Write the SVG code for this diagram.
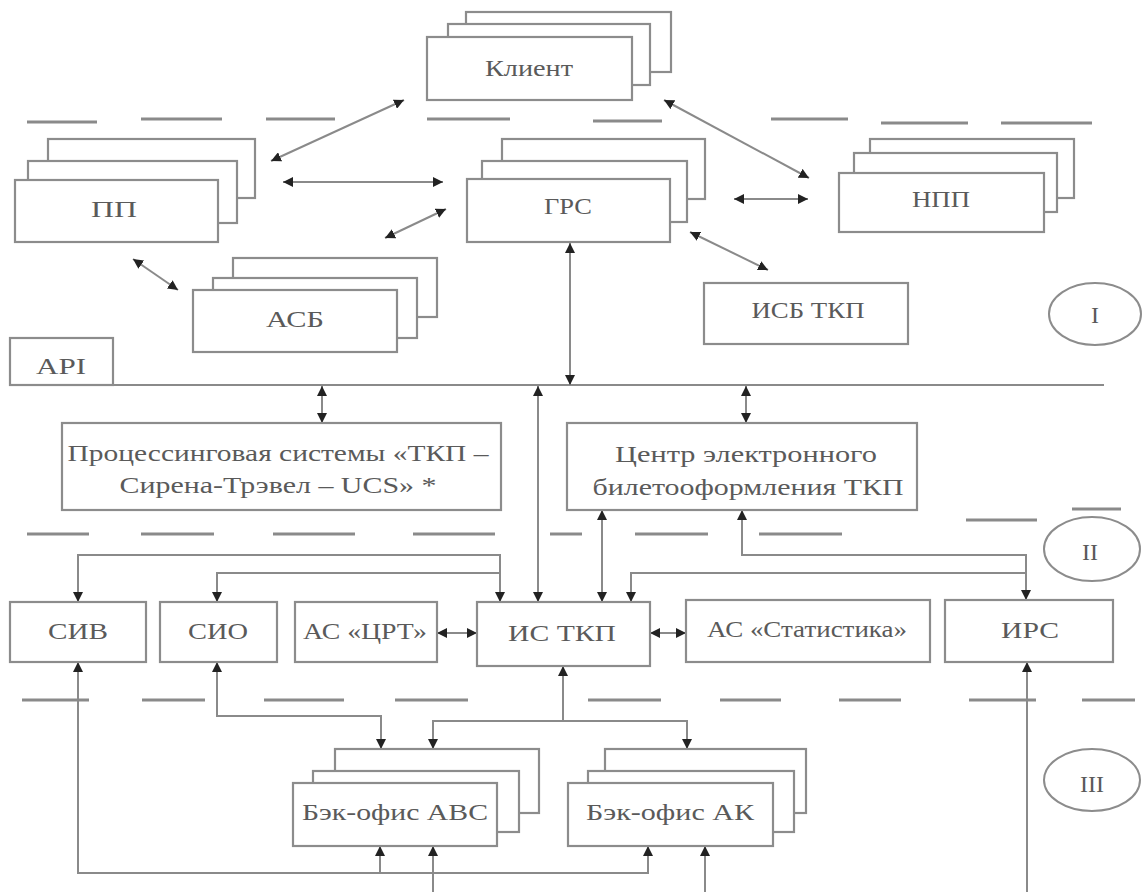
<svg xmlns="http://www.w3.org/2000/svg" width="1142" height="892" viewBox="0 0 1142 892">
<style>
.box{fill:#fff;stroke:#8c8c8c;stroke-width:2.2}
.ln{fill:none;stroke:#8a8a8a;stroke-width:2}
.dash{stroke:#8a8a8a;stroke-width:3}
.ell{fill:#fff;stroke:#8c8c8c;stroke-width:2}
.t{font-family:"Liberation Serif","Times New Roman",serif;font-size:24px;fill:#5a5a5a;text-anchor:middle}
</style>
<defs>
<marker id="ah" viewBox="0 0 10 10" refX="10" refY="5" markerWidth="10" markerHeight="10" markerUnits="userSpaceOnUse" orient="auto-start-reverse">
<path d="M0,0 L10,5 L0,10 z" fill="#222"/>
</marker>
</defs>
<rect width="1142" height="892" fill="#fff"/>

<g id="dashes">
<line class="dash" x1="27" y1="122" x2="97" y2="122"/>
<line class="dash" x1="141" y1="119" x2="222" y2="119"/>
<line class="dash" x1="266" y1="119" x2="335" y2="119"/>
<line class="dash" x1="427" y1="119" x2="510" y2="119"/>
<line class="dash" x1="593" y1="121" x2="662" y2="121"/>
<line class="dash" x1="771" y1="119" x2="848" y2="119"/>
<line class="dash" x1="881" y1="123" x2="968" y2="123"/>
<line class="dash" x1="1001" y1="123" x2="1092" y2="123"/>

<line class="dash" x1="27" y1="534" x2="89" y2="534"/>
<line class="dash" x1="141" y1="534" x2="214" y2="534"/>
<line class="dash" x1="273" y1="534" x2="355" y2="534"/>
<line class="dash" x1="413" y1="534" x2="495" y2="534"/>
<line class="dash" x1="550" y1="534" x2="582" y2="534"/>
<line class="dash" x1="635" y1="534" x2="708" y2="534"/>
<line class="dash" x1="759" y1="534" x2="842" y2="534"/>
<line class="dash" x1="966" y1="520" x2="1037" y2="520"/>
<line class="dash" x1="1072" y1="509" x2="1121" y2="509"/>

<line class="dash" x1="22" y1="700" x2="89" y2="700"/>
<line class="dash" x1="142" y1="700" x2="205" y2="700"/>
<line class="dash" x1="264" y1="700" x2="344" y2="700"/>
<line class="dash" x1="395" y1="700" x2="468" y2="700"/>
<line class="dash" x1="588" y1="700" x2="661" y2="700"/>
<line class="dash" x1="720" y1="700" x2="781" y2="700"/>
<line class="dash" x1="839" y1="700" x2="901" y2="700"/>
<line class="dash" x1="969" y1="700" x2="1036" y2="700"/>
<line class="dash" x1="1082" y1="700" x2="1135" y2="700"/>
</g>

<g id="api-bus">
<line class="ln" x1="10" y1="385" x2="1104" y2="385"/>
</g>

<g id="connectors">
<line class="ln" x1="404" y1="100" x2="271" y2="161" marker-start="url(#ah)" marker-end="url(#ah)"/>
<line class="ln" x1="283" y1="182" x2="443" y2="182" marker-start="url(#ah)" marker-end="url(#ah)"/>
<line class="ln" x1="664" y1="100" x2="809" y2="178" marker-start="url(#ah)" marker-end="url(#ah)"/>
<line class="ln" x1="734" y1="199" x2="808" y2="199" marker-start="url(#ah)" marker-end="url(#ah)"/>
<line class="ln" x1="133" y1="259" x2="178" y2="290" marker-start="url(#ah)" marker-end="url(#ah)"/>
<line class="ln" x1="385" y1="238" x2="446" y2="209" marker-start="url(#ah)" marker-end="url(#ah)"/>
<line class="ln" x1="570" y1="243" x2="570" y2="385" marker-start="url(#ah)" marker-end="url(#ah)"/>
<line class="ln" x1="690" y1="232" x2="768" y2="270" marker-start="url(#ah)" marker-end="url(#ah)"/>

<line class="ln" x1="322" y1="386" x2="322" y2="423" marker-start="url(#ah)" marker-end="url(#ah)"/>
<line class="ln" x1="746" y1="386" x2="746" y2="423" marker-start="url(#ah)" marker-end="url(#ah)"/>
<line class="ln" x1="538" y1="386" x2="538" y2="602" marker-start="url(#ah)" marker-end="url(#ah)"/>
<line class="ln" x1="602" y1="510" x2="602" y2="602" marker-start="url(#ah)" marker-end="url(#ah)"/>
<path class="ln" d="M742,510 V555 H1026 V600" marker-start="url(#ah)" marker-end="url(#ah)"/>
<path class="ln" d="M1026,573 H631 V602" marker-end="url(#ah)"/>
<path class="ln" d="M500,602 V555 H78 V602" marker-start="url(#ah)" marker-end="url(#ah)"/>
<path class="ln" d="M500,573 H217 V602" marker-end="url(#ah)"/>
<line class="ln" x1="437" y1="633" x2="477" y2="633" marker-start="url(#ah)" marker-end="url(#ah)"/>
<line class="ln" x1="650" y1="633" x2="686" y2="633" marker-start="url(#ah)" marker-end="url(#ah)"/>

<path class="ln" d="M217,662 V716 H381 V749" marker-start="url(#ah)" marker-end="url(#ah)"/>
<path class="ln" d="M563,666 V721 H433 V749" marker-start="url(#ah)" marker-end="url(#ah)"/>
<path class="ln" d="M563,721 H687 V749" marker-end="url(#ah)"/>
<path class="ln" d="M78,662 V873 H648 V846" marker-start="url(#ah)" marker-end="url(#ah)"/>
<path class="ln" d="M380,873 V846" marker-end="url(#ah)"/>
<path class="ln" d="M433,892 V846" marker-end="url(#ah)"/>
<path class="ln" d="M705,892 V846" marker-end="url(#ah)"/>
<path class="ln" d="M1027,892 V662" marker-end="url(#ah)"/>
</g>

<g id="klient">
<rect class="box" x="466" y="12" width="205" height="60"/>
<rect class="box" x="448" y="24" width="202" height="61"/>
<rect class="box" x="427" y="37" width="205" height="63"/>
<text class="t" x="529" y="76" textLength="88" lengthAdjust="spacingAndGlyphs">Клиент</text>
</g>

<g id="pp">
<rect class="box" x="48" y="139" width="207" height="59"/>
<rect class="box" x="28" y="161" width="209" height="62"/>
<rect class="box" x="15" y="180" width="203" height="62"/>
<text class="t" x="114" y="217" textLength="46" lengthAdjust="spacingAndGlyphs">ПП</text>
</g>

<g id="grs">
<rect class="box" x="502" y="139" width="203" height="60"/>
<rect class="box" x="482" y="161" width="205" height="61"/>
<rect class="box" x="467" y="179" width="203" height="63"/>
<text class="t" x="568" y="214" textLength="48" lengthAdjust="spacingAndGlyphs">ГРС</text>
</g>

<g id="npp">
<rect class="box" x="870" y="139" width="204" height="59"/>
<rect class="box" x="854" y="153" width="203" height="59"/>
<rect class="box" x="839" y="173" width="205" height="59"/>
<text class="t" x="941" y="207" textLength="58" lengthAdjust="spacingAndGlyphs">НПП</text>
</g>

<g id="asb">
<rect class="box" x="233" y="258" width="204" height="59"/>
<rect class="box" x="213" y="278" width="204" height="60"/>
<rect class="box" x="193" y="290" width="204" height="62"/>
<text class="t" x="295" y="327" textLength="58" lengthAdjust="spacingAndGlyphs">АСБ</text>
</g>

<g id="isb-tkp">
<rect class="box" x="704" y="283" width="204" height="61"/>
<text class="t" x="808" y="318" textLength="113" lengthAdjust="spacingAndGlyphs">ИСБ ТКП</text>
</g>

<g id="level-1">
<ellipse class="ell" cx="1095" cy="314" rx="46" ry="31"/>
<text class="t" x="1095" y="323">I</text>
</g>

<g id="api">
<rect class="box" x="10" y="338" width="103" height="47"/>
<text class="t" x="61" y="374" textLength="50" lengthAdjust="spacingAndGlyphs">API</text>
</g>

<g id="processing">
<rect class="box" x="62" y="423" width="439" height="87"/>
<text class="t" x="278" y="461" textLength="421" lengthAdjust="spacingAndGlyphs">Процессинговая системы «ТКП –</text>
<text class="t" x="278" y="493" textLength="317" lengthAdjust="spacingAndGlyphs">Сирена-Трэвел – UCS» *</text>
</g>

<g id="center-ticketing">
<rect class="box" x="567" y="423" width="350" height="87"/>
<text class="t" x="746" y="462" textLength="262" lengthAdjust="spacingAndGlyphs">Центр электронного</text>
<text class="t" x="748" y="495" textLength="311" lengthAdjust="spacingAndGlyphs">билетооформления ТКП</text>
</g>

<g id="level-2">
<ellipse class="ell" cx="1092" cy="549" rx="48" ry="32"/>
<text class="t" x="1090" y="560">II</text>
</g>

<g id="siv">
<rect class="box" x="10" y="602" width="136" height="60"/>
<text class="t" x="78" y="639" textLength="60" lengthAdjust="spacingAndGlyphs">СИВ</text>
</g>

<g id="sio">
<rect class="box" x="160" y="602" width="117" height="60"/>
<text class="t" x="218" y="639" textLength="60" lengthAdjust="spacingAndGlyphs">СИО</text>
</g>

<g id="as-crt">
<rect class="box" x="295" y="602" width="142" height="60"/>
<text class="t" x="365" y="639" textLength="124" lengthAdjust="spacingAndGlyphs">АС «ЦРТ»</text>
</g>

<g id="is-tkp">
<rect class="box" x="477" y="602" width="173" height="64"/>
<text class="t" x="562" y="641" textLength="108" lengthAdjust="spacingAndGlyphs">ИС ТКП</text>
</g>

<g id="as-stat">
<rect class="box" x="686" y="600" width="244" height="62"/>
<text class="t" x="807" y="637" textLength="200" lengthAdjust="spacingAndGlyphs">АС «Статистика»</text>
</g>

<g id="irs">
<rect class="box" x="945" y="600" width="168" height="62"/>
<text class="t" x="1030" y="638" textLength="58" lengthAdjust="spacingAndGlyphs">ИРС</text>
</g>

<g id="backoffice-avs">
<rect class="box" x="335" y="749" width="204" height="64"/>
<rect class="box" x="313" y="771" width="206" height="61"/>
<rect class="box" x="293" y="783" width="204" height="63"/>
<text class="t" x="395" y="820" textLength="186" lengthAdjust="spacingAndGlyphs">Бэк-офис АВС</text>
</g>

<g id="backoffice-ak">
<rect class="box" x="605" y="749" width="201" height="64"/>
<rect class="box" x="588" y="771" width="206" height="61"/>
<rect class="box" x="568" y="783" width="205" height="63"/>
<text class="t" x="670" y="820" textLength="168" lengthAdjust="spacingAndGlyphs">Бэк-офис АК</text>
</g>

<g id="level-3">
<ellipse class="ell" cx="1092" cy="780" rx="48" ry="31"/>
<text class="t" x="1092" y="792">III</text>
</g>
</svg>
